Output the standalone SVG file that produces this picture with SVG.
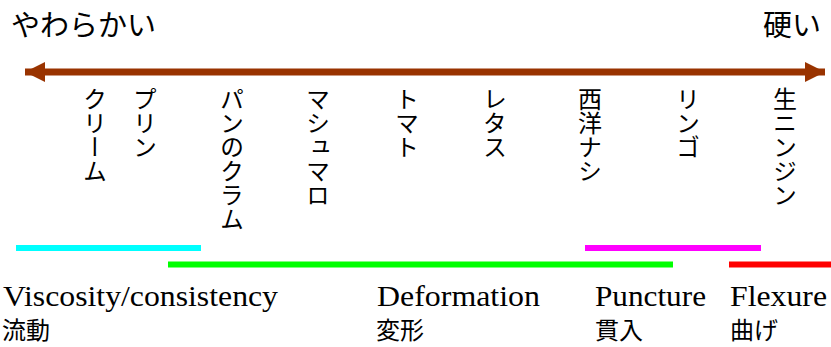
<svg xmlns="http://www.w3.org/2000/svg" width="831" height="347" viewBox="0 0 831 347">
<style>
.jp{font-family:"Noto Sans CJK JP","Noto Sans CJK SC",sans-serif;fill:#000}
.v{font-size:24px;writing-mode:vertical-rl;text-orientation:mixed}
.big{font-size:29px}
.en{font-family:"Liberation Serif","Times New Roman",serif;font-size:29px;fill:#000}
.lab{font-size:24px}
.bar{stroke-width:6;fill:none}
</style>
<defs>
<marker id="ah" viewBox="0 0 20 20" refX="20" refY="10" markerWidth="20" markerHeight="20" markerUnits="userSpaceOnUse" orient="auto-start-reverse">
<path d="M0,0 L20,10 L0,20 Z" fill="#993300"/>
</marker>
</defs>
<g id="axis-labels">
<text id="soft" class="jp big" x="11" y="36">やわらかい</text>
<text id="hard" class="jp big" x="821" y="36" text-anchor="end">硬い</text>
</g>
<g id="connectors">
<line x1="25" y1="72" x2="825" y2="72" stroke="#993300" stroke-width="7" marker-start="url(#ah)" marker-end="url(#ah)"/>
</g>
<g id="foods">
<text id="cream" class="jp v" x="95" y="87">クリーム</text>
<text id="pudding" class="jp v" x="145" y="87">プリン</text>
<text id="breadcrumb" class="jp v" x="232" y="87">パンのクラム</text>
<text id="marshmallow" class="jp v" x="318" y="87">マシュマロ</text>
<text id="tomato" class="jp v" x="407" y="87">トマト</text>
<text id="lettuce" class="jp v" x="495" y="87">レタス</text>
<text id="pear" class="jp v" x="590" y="87">西洋ナシ</text>
<text id="apple" class="jp v" x="688" y="87">リンゴ</text>
<text id="carrot" class="jp v" x="785" y="87">生ニンジン</text>
</g>
<g id="ranges">
<line class="bar" x1="16" y1="248" x2="201" y2="248" stroke="#00ffff"/>
<line class="bar" x1="168" y1="264.5" x2="673" y2="264.5" stroke="#00ff00"/>
<line class="bar" x1="585" y1="248" x2="761" y2="248" stroke="#ff00ff"/>
<line class="bar" x1="729" y1="264.5" x2="831" y2="264.5" stroke="#ff0000"/>
</g>
<g id="viscosity">
<text class="en" x="3" y="306" textLength="275" lengthAdjust="spacingAndGlyphs">Viscosity/consistency</text>
<text class="jp lab" x="2" y="339">流動</text>
</g>
<g id="deformation">
<text class="en" x="377" y="306" textLength="163" lengthAdjust="spacingAndGlyphs">Deformation</text>
<text class="jp lab" x="376" y="339">変形</text>
</g>
<g id="puncture">
<text class="en" x="595" y="306" textLength="111" lengthAdjust="spacingAndGlyphs">Puncture</text>
<text class="jp lab" x="595" y="339">貫入</text>
</g>
<g id="flexure">
<text class="en" x="730" y="306" textLength="97" lengthAdjust="spacingAndGlyphs">Flexure</text>
<text class="jp lab" x="730" y="339">曲げ</text>
</g>
</svg>
